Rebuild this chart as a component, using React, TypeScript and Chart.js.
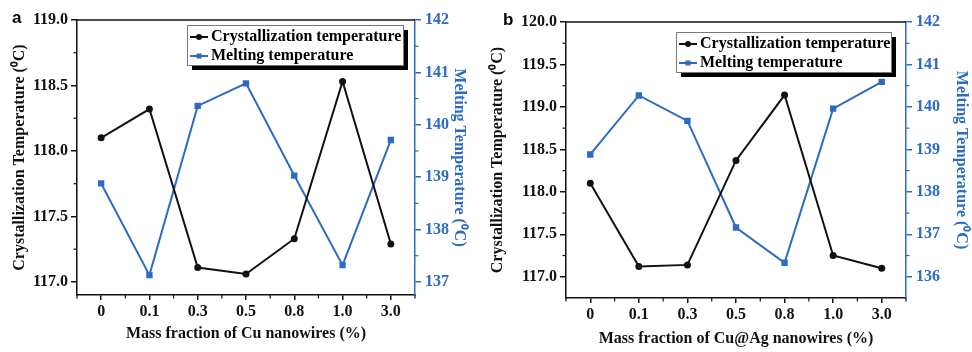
import React, { useEffect, useRef } from "react";
import { Chart, registerables } from "chart.js";

Chart.register(...registerables);

// ---------- data ----------
const categories = ["0", "0.1", "0.3", "0.5", "0.8", "1.0", "3.0"];
const crystA = [118.1, 118.32, 117.11, 117.06, 117.33, 118.53, 117.29];
const meltA = [138.88, 137.13, 140.36, 140.79, 139.03, 137.32, 139.71];
const crystB = [118.1, 117.12, 117.14, 118.37, 119.14, 117.25, 117.1];
const meltB = [138.88, 140.27, 139.67, 137.16, 136.33, 139.96, 140.59];
const leftTicksA = [117.0, 117.5, 118.0, 118.5, 119.0];
const rightTicksA = [137, 138, 139, 140, 141, 142];
const leftTicksB = [117.0, 117.5, 118.0, 118.5, 119.0, 119.5, 120.0];
const rightTicksB = [136, 137, 138, 139, 140, 141, 142];
const seriesNames = ["Crystallization temperature", "Melting temperature"];
const xTitleA = "Mass fraction of Cu nanowires (%)";
const xTitleB = "Mass fraction of Cu@Ag nanowires (%)";
const yTitleLeft = "Crystallization Temperature (\u2070C)";
const yTitleRight = "Melting Temperature (\u2070C)";

// ---------- styles ----------
const BLACK = "#111111";
const BLUE = "#2b6cc2";
const SERIF = "'Liberation Serif', 'Times New Roman', serif";
const W = 486;
const H = 352;

const panels = [
  {
    tag: "a",
    cryst: crystA,
    melt: meltA,
    leftTicks: leftTicksA,
    rightTicks: rightTicksA,
    leftRange: [116.9, 119.0],
    rightRange: [136.75, 142],
    xTitle: xTitleA,
    box: { leftW: 77, rightW: 71, top: 20, xH: 57 },
    pad: { left: 10, right: 17, x: 9 },
    legend: { x: 187, y: 25, w: 216, h: 40 },
    tagPos: { x: 12, y: 23 },
  },
  {
    tag: "b",
    cryst: crystB,
    melt: meltB,
    leftTicks: leftTicksB,
    rightTicks: rightTicksB,
    leftRange: [116.75, 120.0],
    rightRange: [135.5, 142],
    xTitle: xTitleB,
    box: { leftW: 80, rightW: 66, top: 22, xH: 54 },
    pad: { left: 2, right: 1, x: 4 },
    legend: { x: 190, y: 32, w: 215, h: 40 },
    tagPos: { x: 17, y: 25 },
  },
];

const decorPlugin = {
  id: "decor",
  afterDraw(chart: any, _args: any, opts: any) {
    const ctx = chart.ctx as CanvasRenderingContext2D;
    const ca = chart.chartArea;
    ctx.save();
    // top frame line
    ctx.strokeStyle = BLACK;
    ctx.lineWidth = 1.5;
    ctx.beginPath();
    ctx.moveTo(ca.left, ca.top);
    ctx.lineTo(ca.right, ca.top);
    ctx.stroke();

    // minor ticks on y axes
    const drawMinorY = (scale: any, x0: number, dir: number, color: string) => {
      const majors = scale.ticks.map((t: any) => t.value);
      if (majors.length < 2) return;
      const step = majors[1] - majors[0];
      const vals: number[] = majors.map((m: number) => m - step / 2);
      vals.push(majors[majors.length - 1] + step / 2);
      ctx.strokeStyle = color;
      ctx.lineWidth = 1.2;
      vals.forEach((v) => {
        if (v <= scale.min + 1e-9 || v >= scale.max - 1e-9) return;
        const y = scale.getPixelForValue(v);
        ctx.beginPath();
        ctx.moveTo(x0, y);
        ctx.lineTo(x0 + dir * 3.5, y);
        ctx.stroke();
      });
    };
    drawMinorY(chart.scales.y, ca.left, -1, BLACK);
    drawMinorY(chart.scales.y1, ca.right, 1, BLUE);

    // minor ticks on x axis
    const xs = chart.scales.x;
    const n = chart.data.labels.length;
    const half = (xs.getPixelForValue(1) - xs.getPixelForValue(0)) / 2;
    ctx.strokeStyle = BLACK;
    ctx.lineWidth = 1.2;
    for (let i = 0; i <= n; i++) {
      const x = xs.getPixelForValue(Math.min(i, n - 1)) + (i < n ? -half : half);
      ctx.beginPath();
      ctx.moveTo(x, ca.bottom);
      ctx.lineTo(x, ca.bottom + 3.5);
      ctx.stroke();
    }

    // legend box
    const lg = opts.legend;
    ctx.fillStyle = "#000";
    ctx.fillRect(lg.x + 5, lg.y + 5, lg.w, lg.h);
    ctx.fillStyle = "#fff";
    ctx.fillRect(lg.x, lg.y, lg.w, lg.h);
    ctx.strokeStyle = "#777";
    ctx.lineWidth = 1;
    ctx.strokeRect(lg.x + 0.5, lg.y + 0.5, lg.w, lg.h);
    const rows = [lg.y + 12, lg.y + 31];
    chart.data.datasets.forEach((ds: any, i: number) => {
      const ry = rows[i];
      ctx.strokeStyle = ds.borderColor;
      ctx.lineWidth = 2;
      ctx.beginPath();
      ctx.moveTo(lg.x + 3, ry);
      ctx.lineTo(lg.x + 21, ry);
      ctx.stroke();
      ctx.fillStyle = ds.borderColor;
      if (ds.pointStyle === "rect") {
        ctx.fillRect(lg.x + 12 - 2.5, ry - 2.5, 5, 5);
      } else {
        ctx.beginPath();
        ctx.arc(lg.x + 12, ry, 3, 0, Math.PI * 2);
        ctx.fill();
      }
      ctx.fillStyle = "#000";
      ctx.font = `bold 16px ${SERIF}`;
      ctx.textAlign = "left";
      ctx.textBaseline = "middle";
      ctx.fillText(ds.label, lg.x + 24, ry);
    });

    // panel tag
    ctx.fillStyle = "#000";
    ctx.font = "bold 17px 'Liberation Sans', Arial, sans-serif";
    ctx.textAlign = "left";
    ctx.textBaseline = "alphabetic";
    ctx.fillText(opts.tag, opts.tagPos.x, opts.tagPos.y);
    ctx.restore();
  },
};

function Panel({ p }: { p: (typeof panels)[number] }) {
  const ref = useRef<HTMLCanvasElement | null>(null);
  useEffect(() => {
    if (!ref.current) return;
    const font = { family: SERIF, size: 16, weight: "bold" as const };
    const chart = new Chart(ref.current, {
      type: "line",
      data: {
        labels: categories,
        datasets: [
          {
            label: seriesNames[0],
            data: p.cryst,
            yAxisID: "y",
            borderColor: BLACK,
            backgroundColor: BLACK,
            borderWidth: 2,
            pointStyle: "circle",
            pointRadius: 3.5,
            pointBorderWidth: 0,
            tension: 0,
          },
          {
            label: seriesNames[1],
            data: p.melt,
            yAxisID: "y1",
            borderColor: BLUE,
            backgroundColor: BLUE,
            borderWidth: 2,
            pointStyle: "rect",
            pointRadius: 4.5,
            pointBorderWidth: 0,
            tension: 0,
          },
        ],
      },
      options: {
        responsive: false,
        animation: false,
        events: [],
        layout: { padding: { top: p.box.top, left: 0, right: 0, bottom: 0 } },
        plugins: {
          legend: { display: false },
          tooltip: { enabled: false },
          decor: { legend: p.legend, tag: p.tag, tagPos: p.tagPos },
        } as any,
        scales: {
          x: {
            type: "category",
            offset: true,
            grid: {
              offset: false,
              drawOnChartArea: false,
              drawTicks: true,
              tickLength: 5,
              color: BLACK,
              lineWidth: 1.5,
            },
            border: { display: true, color: BLACK, width: 1.5 },
            ticks: { color: BLACK, font, padding: 2, maxRotation: 0 },
            title: {
              display: true,
              text: p.xTitle,
              color: BLACK,
              font,
              padding: { top: 0, bottom: p.pad.x },
            },
            afterFit: (s: any) => {
              s.height = p.box.xH;
            },
          },
          y: {
            type: "linear",
            position: "left",
            min: p.leftRange[0],
            max: p.leftRange[1],
            grid: {
              drawOnChartArea: false,
              drawTicks: true,
              tickLength: 6,
              color: BLACK,
              lineWidth: 1.5,
            },
            border: { display: true, color: BLACK, width: 1.5 },
            ticks: {
              color: BLACK,
              font,
              padding: 3,
              callback: (v: any) => Number(v).toFixed(1),
            },
            afterBuildTicks: (s: any) => {
              s.ticks = p.leftTicks.map((v) => ({ value: v }));
            },
            title: {
              display: true,
              text: yTitleLeft,
              color: BLACK,
              font,
              padding: { top: p.pad.left, bottom: 0 },
            },
            afterFit: (s: any) => {
              s.width = p.box.leftW;
            },
          },
          y1: {
            type: "linear",
            position: "right",
            min: p.rightRange[0],
            max: p.rightRange[1],
            grid: {
              drawOnChartArea: false,
              drawTicks: true,
              tickLength: 6,
              color: BLUE,
              lineWidth: 1.5,
            },
            border: { display: true, color: BLUE, width: 1.5 },
            ticks: {
              color: BLUE,
              font,
              padding: 4,
              callback: (v: any) => String(Math.round(Number(v))),
            },
            afterBuildTicks: (s: any) => {
              s.ticks = p.rightTicks.map((v) => ({ value: v }));
            },
            title: {
              display: true,
              text: yTitleRight,
              color: BLUE,
              font,
              padding: { top: p.pad.right, bottom: 0 },
            },
            afterFit: (s: any) => {
              s.width = p.box.rightW;
            },
          },
        },
      } as any,
      plugins: [decorPlugin],
    });
    return () => chart.destroy();
  }, [p]);
  return <canvas ref={ref} width={W} height={H} style={{ display: "block", width: W, height: H }} />;
}

export default function App() {
  return (
    <div style={{ position: "fixed", left: 0, top: 0, width: 972, height: 352, background: "#fff" }}>
      <div style={{ position: "absolute", left: 0, top: 0 }}>
        <Panel p={panels[0]} />
      </div>
      <div style={{ position: "absolute", left: 486, top: 0 }}>
        <Panel p={panels[1]} />
      </div>
    </div>
  );
}
